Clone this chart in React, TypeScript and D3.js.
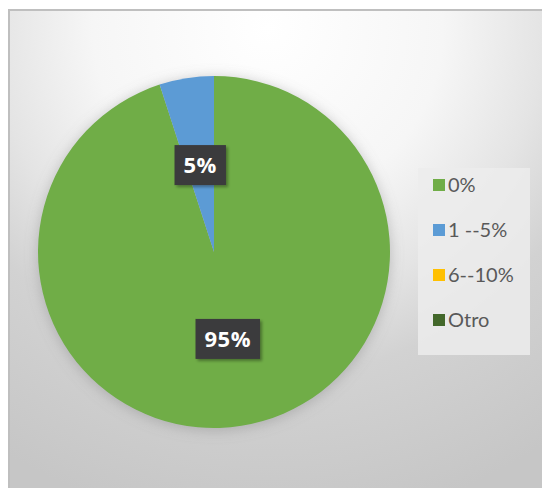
import * as d3 from "d3";
import React, { useEffect, useRef } from "react";

// chart data
const categories = ["0%", "1 --5%", "6--10%", "Otro"];
const shares = [95, 5, 0, 0];
const sliceColors = ["#70ad47", "#5b9bd5", "#ffc000", "#43682b"];

const W = 542;
const H = 488;

const App: React.FC = () => {
    const svgRef = useRef<SVGSVGElement>(null);

    useEffect(() => {
        document.body.style.margin = "0";
        const svg = d3.select(svgRef.current);
        svg.selectAll("*").remove();

        const defs = svg.append("defs");

        // soft grey background like the office chart area
        const bg = defs.append("radialGradient")
            .attr("id", "bgGrad")
            .attr("gradientUnits", "userSpaceOnUse")
            .attr("cx", 268).attr("cy", 28).attr("r", 500);
        [[0, "#ffffff"], [0.35, "#f6f6f6"], [0.55, "#e4e4e4"], [0.7, "#d2d2d2"], [1, "#c6c6c6"]]
            .forEach(([o, c]) => bg.append("stop").attr("offset", o as number).attr("stop-color", c as string));

        const pieShadow = defs.append("filter").attr("id", "pieShadow")
            .attr("x", "-20%").attr("y", "-20%").attr("width", "140%").attr("height", "140%");
        pieShadow.append("feDropShadow")
            .attr("dx", 0).attr("dy", 2).attr("stdDeviation", 7)
            .attr("flood-color", "#808080").attr("flood-opacity", 0.45);

        const boxShadow = defs.append("filter").attr("id", "boxShadow")
            .attr("x", "-30%").attr("y", "-30%").attr("width", "160%").attr("height", "160%");
        boxShadow.append("feDropShadow")
            .attr("dx", 2).attr("dy", 2).attr("stdDeviation", 1.5)
            .attr("flood-color", "#000").attr("flood-opacity", 0.35);

        svg.append("rect").attr("width", W).attr("height", H).attr("fill", "#ffffff");

        // frame (only top and left edges fall inside the window)
        svg.append("rect")
            .attr("x", 9).attr("y", 10)
            .attr("width", W + 10).attr("height", H + 10)
            .attr("fill", "url(#bgGrad)")
            .attr("stroke", "#bfbfbf").attr("stroke-width", 2);

        // pie
        const cx = 214, cy = 252, R = 176;
        const pie = d3.pie<number>().sort(null).value(d => d);
        const arcs = pie(shares);
        const arc = d3.arc<d3.PieArcDatum<number>>().innerRadius(0).outerRadius(R);

        const g = svg.append("g").attr("transform", `translate(${cx},${cy})`);
        g.append("g").attr("filter", "url(#pieShadow)")
            .selectAll("path")
            .data(arcs.filter(a => a.value > 0))
            .enter()
            .append("path")
            .attr("d", arc)
            .attr("fill", a => sliceColors[a.index]);

        // data labels in dark boxes
        arcs.filter(a => a.value > 0).forEach(a => {
            const [lx, ly] = arc.centroid(a);
            const lg = g.append("g").attr("transform", `translate(${lx},${ly})`);
            const rect = lg.append("rect").attr("fill", "#3a3a3c").attr("filter", "url(#boxShadow)");
            const txt = lg.append("text")
                .attr("text-anchor", "middle")
                .attr("dy", "0.36em")
                .attr("fill", "#ffffff")
                .attr("font-family", "'Open Sans', sans-serif")
                .attr("font-weight", 700)
                .attr("font-size", 22)
                .attr("letter-spacing", 0.5)
                .text(`${a.value}%`);
            const tw = (txt.node() as SVGTextElement).getComputedTextLength();
            const bw = tw + 18;
            const bh = 40;
            rect.attr("x", -bw / 2).attr("y", -bh / 2).attr("width", bw).attr("height", bh);
        });

        // legend
        const lx0 = 418, ly0 = 168;
        svg.append("rect")
            .attr("x", lx0).attr("y", ly0)
            .attr("width", 112).attr("height", 187)
            .attr("fill", "#ececec").attr("fill-opacity", 0.85);

        const itemY = d3.scalePoint<string>()
            .domain(categories)
            .range([ly0 + 17, ly0 + 152]);

        const items = svg.append("g").selectAll("g")
            .data(categories)
            .enter()
            .append("g")
            .attr("transform", d => `translate(${lx0 + 15},${itemY(d)})`);
        items.append("rect")
            .attr("x", 0).attr("y", -6)
            .attr("width", 12).attr("height", 12)
            .attr("fill", (_, i) => sliceColors[i]);
        items.append("text")
            .attr("x", 15)
            .attr("dy", "0.35em")
            .attr("fill", "#595959")
            .attr("font-family", "Lato, sans-serif")
            .attr("font-size", 20)
            .text(d => d);
    }, []);

    return (
        <svg ref={svgRef} width={W} height={H} style={{ display: "block" }} />
    );
};

export default App;
